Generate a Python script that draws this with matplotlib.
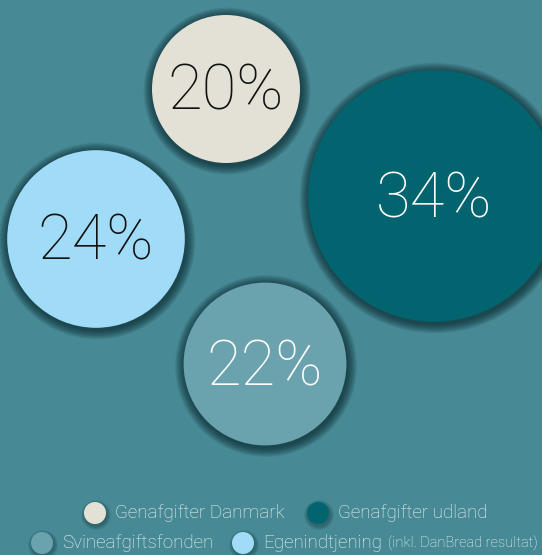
import matplotlib.pyplot as plt
from matplotlib.patches import Circle

# data
labels = ["Genafgifter Danmark", "Genafgifter udland", "Svineafgiftsfonden", "Egenindtjening"]
values = [20, 34, 22, 24]
colors = ["#e3e1d6", "#02646e", "#6aa3ae", "#a0dcf7"]
text_colors = ["#111111", "#ffffff", "#ffffff", "#111111"]
note = "(inkl. DanBread resultat)"

# layout (pixel coords)
centers = [(226, 89), (434, 196), (265, 364), (96, 239)]
scale = 3.7
bg = "#478a95"

plt.rcParams['font.family'] = ['Roboto', 'DejaVu Sans']

fig = plt.figure(figsize=(5.42, 5.55), dpi=100)
fig.patch.set_facecolor(bg)
ax = fig.add_axes([0, 0, 1, 1])
ax.set_xlim(0, 542)
ax.set_ylim(555, 0)
ax.set_aspect('equal')
ax.axis('off')


def shadow_circle(x, y, r, color, z, soft=12, step=0.8):
    # fake blur shadow
    for i in range(soft, 0, -1):
        ax.add_patch(Circle((x + 1, y + 2), r + i * step, color="#08262c",
                            alpha=0.08, lw=0, zorder=z))
    ax.add_patch(Circle((x, y), r, color=color, lw=0, zorder=z + 0.5))


for v, c, tc, (x, y) in zip(values, colors, text_colors, centers):
    r = v * scale
    shadow_circle(x, y, r, c, 2)
    ax.text(x, y + 21, f"{v}%", color=tc, fontsize=45.5, fontweight='light',
            ha='center', va='baseline', zorder=5)

# legend
leg_pos = [(95, 513), (318, 513), (42, 543), (243, 543)]
txt = None
for lab, c, (x, y) in zip(labels, colors, leg_pos):
    shadow_circle(x, y, 11, c, 6, soft=5)
    txt = ax.text(x + 20, y + 5, lab, color="#eef6f7", fontsize=13.5, fontweight='light',
                  ha='left', va='baseline', zorder=8)

# small note right after the last label
fig.canvas.draw()
bb = txt.get_window_extent().transformed(ax.transData.inverted())
ax.text(bb.x1 + 6, leg_pos[3][1] + 5, note, color="#eef6f7", fontsize=10.5,
        fontweight='light', ha='left', va='baseline', zorder=8)

fig.savefig("out.png", dpi=100, facecolor=bg)
